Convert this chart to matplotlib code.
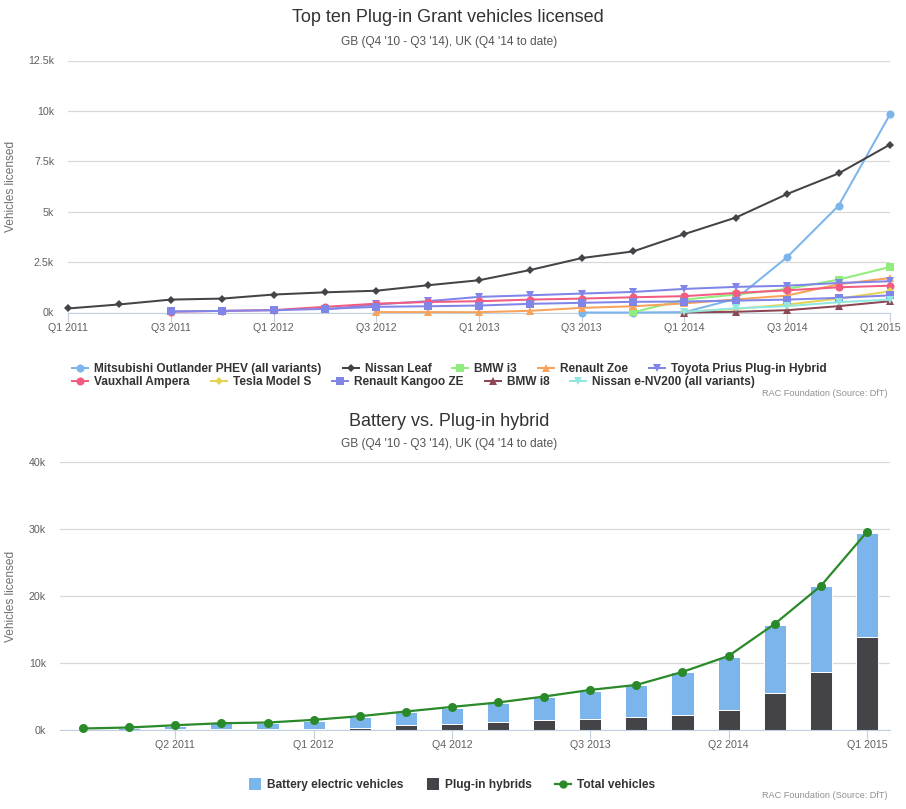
import numpy as np
import matplotlib
matplotlib.use('Agg')
import matplotlib.pyplot as plt
from matplotlib.lines import Line2D
from matplotlib.patches import Rectangle
from matplotlib.transforms import ScaledTranslation

plt.rcParams['font.family'] = ['Liberation Sans', 'DejaVu Sans']

nan = np.nan

# ---------------- data: top chart (quarters Q1 2011 .. Q1 2015) ----------------
quarters = ['Q1 2011', 'Q2 2011', 'Q3 2011', 'Q4 2011', 'Q1 2012', 'Q2 2012',
            'Q3 2012', 'Q4 2012', 'Q1 2013', 'Q2 2013', 'Q3 2013', 'Q4 2013',
            'Q1 2014', 'Q2 2014', 'Q3 2014', 'Q4 2014', 'Q1 2015']

outlander = [nan, nan, nan, nan, nan, nan, nan, nan, nan, nan, 0, 0, 20, 680, 2750, 5300, 9830]
leaf = [200, 400, 640, 690, 890, 1000, 1080, 1350, 1600, 2110, 2700, 3030, 3890, 4710, 5880, 6900, 8330]
bmw_i3 = [nan, nan, nan, nan, nan, nan, nan, nan, nan, nan, nan, 10, 640, 890, 1170, 1630, 2260]
zoe = [nan, nan, nan, nan, nan, nan, 20, 20, 15, 85, 230, 310, 450, 650, 840, 1400, 1710]
prius = [nan, nan, nan, nan, nan, 150, 400, 560, 775, 855, 940, 1020, 1170, 1270, 1330, 1465, 1550]
ampera = [nan, nan, 40, 80, 120, 280, 440, 520, 560, 640, 690, 755, 810, 970, 1100, 1250, 1330]
tesla = [nan, nan, nan, nan, nan, nan, nan, nan, nan, nan, nan, nan, 20, 180, 395, 690, 1050]
kangoo = [nan, nan, 50, 80, 110, 180, 280, 310, 345, 430, 480, 530, 545, 590, 640, 725, 850]
bmw_i8 = [nan, nan, nan, nan, nan, nan, nan, nan, nan, nan, nan, nan, 0, 35, 115, 315, 560]
env200 = [nan, nan, nan, nan, nan, nan, nan, nan, nan, nan, nan, nan, 20, 210, 315, 510, 640]

series_names = ['Mitsubishi Outlander PHEV (all variants)', 'Nissan Leaf', 'BMW i3',
                'Renault Zoe', 'Toyota Prius Plug-in Hybrid', 'Vauxhall Ampera',
                'Tesla Model S', 'Renault Kangoo ZE', 'BMW i8', 'Nissan e-NV200 (all variants)']
series_values = [outlander, leaf, bmw_i3, zoe, prius, ampera, tesla, kangoo, bmw_i8, env200]
top_ticks = [0, 2500, 5000, 7500, 10000, 12500]

# ---------------- data: bottom chart (quarters Q4 2010 .. Q1 2015) ----------------
quarters2 = ['Q4 2010'] + quarters
bev = [120, 260, 510, 880, 970, 1270, 1680, 2000, 2420, 2780, 3420, 4140, 4730, 6350, 7960, 10120, 12780, 15500]
phev = [0, 0, 10, 20, 30, 60, 240, 640, 840, 1140, 1440, 1640, 1890, 2190, 2940, 5480, 8620, 13850]
total = [150, 300, 640, 940, 1040, 1440, 1990, 2690, 3380, 4040, 4930, 5920, 6670, 8610, 11000, 15790, 21470, 29540]
bottom_ticks = [0, 10000, 20000, 30000, 40000]

# ---------------- styles ----------------
colors = ['#7cb5ec', '#434348', '#90ed7d', '#f7a35c', '#8085e9',
          '#f15c80', '#e4d354', '#8085e8', '#8d4653', '#91e8e1']
markers = ['o', 'D', 's', '^', 'v', 'o', 'D', 's', '^', 'v']
msizes = {'o': 5.8, 'D': 4.3, 's': 5.6, '^': 5.8, 'v': 5.8}
green = '#2a8a2a'
grid_c = '#D8D8D8'
axis_c = '#C0D0E0'
label_c = '#606060'

W, H = 906, 809
fig = plt.figure(figsize=(W / 100, H / 100), dpi=100)


def fx(x):
    return x / W


def fy(y):
    return 1 - y / H


def style_axes(ax, ticks):
    for s in ['top', 'right', 'left']:
        ax.spines[s].set_visible(False)
    ax.spines['bottom'].set_color(axis_c)
    ax.spines['bottom'].set_linewidth(0.8)
    ax.set_yticks(ticks)
    ax.set_yticklabels(['%gk' % (t / 1000) for t in ticks])
    ax.set_ylim(ticks[0], ticks[-1])
    ax.yaxis.grid(True, color=grid_c, linewidth=0.9)
    ax.set_axisbelow(True)
    ax.tick_params(axis='y', length=0, pad=10, labelsize=7.7, labelcolor=label_c)
    ax.tick_params(axis='x', length=6.5, width=0.8, color=axis_c, pad=1,
                   labelsize=7.7, labelcolor=label_c)


# ================= top chart =================
ax1 = fig.add_axes([fx(68), fy(312.5), fx(890) - fx(68), fy(60.5) - fy(312.5)])
x = np.arange(len(quarters))
for vals, c, m in zip(series_values, colors, markers):
    ax1.plot(x, vals, color=c, lw=1.45, marker=m, ms=msizes[m], mew=0,
             clip_on=False, zorder=3)
ax1.set_xlim(0, len(quarters) - 1)
ax1.set_xticks(x[::2])
ax1.set_xticklabels(quarters[::2])
style_axes(ax1, top_ticks)
# last label pulled in so it stays inside the chart, like the original
last = ax1.get_xticklabels()[-1]
last.set_transform(last.get_transform() + ScaledTranslation(-0.1, 0, fig.dpi_scale_trans))

fig.text(fx(448), fy(18), 'Top ten Plug-in Grant vehicles licensed', ha='center',
         va='center', fontsize=13, color='#333333')
fig.text(fx(449), fy(41.5), "GB (Q4 '10 - Q3 '14), UK (Q4 '14 to date)", ha='center',
         va='center', fontsize=8.6, color='#555555')
fig.text(fx(11), fy(186), 'Vehicles licensed', rotation=90, ha='center', va='center',
         fontsize=8.6, color='#707070')

# ================= bottom chart =================
ax2 = fig.add_axes([fx(60), fy(729.5), fx(890) - fx(60), fy(462) - fy(729.5)])
x2 = np.arange(len(quarters2))
ax2.bar(x2, phev, width=0.48, color='#434348', edgecolor='white', linewidth=0.7, zorder=2)
ax2.bar(x2, bev, width=0.48, bottom=phev, color='#7cb5ec', edgecolor='white',
        linewidth=0.7, zorder=2)
ax2.plot(x2, total, color=green, lw=1.6, marker='o', ms=6.5, mew=0, zorder=4,
         clip_on=False)
ax2.set_xlim(-0.5, len(quarters2) - 0.5)
ax2.set_xticks(x2[2::3])
ax2.set_xticklabels([quarters2[i] for i in x2[2::3]])
style_axes(ax2, bottom_ticks)

fig.text(fx(449), fy(421), 'Battery vs. Plug-in hybrid', ha='center', va='center',
         fontsize=13, color='#333333')
fig.text(fx(449), fy(444), "GB (Q4 '10 - Q3 '14), UK (Q4 '14 to date)", ha='center',
         va='center', fontsize=8.6, color='#555555')
fig.text(fx(11), fy(596), 'Vehicles licensed', rotation=90, ha='center', va='center',
         fontsize=8.6, color='#707070')

# ================= legends (flow layout like the original) =================
renderer = fig.canvas.get_renderer()
leg_font = dict(fontsize=8.6, fontweight='bold', color='#333333', va='baseline', ha='left')


def text_width(s):
    t = fig.text(0, 0, s, **leg_font)
    w = t.get_window_extent(renderer).width
    t.remove()
    return w


def legend_text(xp, y, s):
    # baseline sits ~4.3px under the symbol centre
    fig.text(fx(xp), fy(y + 4.3), s, **leg_font)


sym_w, sym_pad, gap = 16, 6, 21
rows = [list(range(0, 5)), list(range(5, 10))]
row_w = [sum(sym_w + sym_pad + text_width(series_names[i]) + gap for i in r) - gap
         for r in rows]
left = 449.5 - max(row_w) / 2
for r, y in zip(rows, [367.5, 381]):
    xp = left
    for i in r:
        fig.add_artist(Line2D([fx(xp), fx(xp + sym_w)], [fy(y), fy(y)],
                              transform=fig.transFigure, color=colors[i], lw=1.45))
        fig.add_artist(Line2D([fx(xp + sym_w / 2)], [fy(y)], transform=fig.transFigure,
                              color=colors[i], marker=markers[i], ms=msizes[markers[i]],
                              mew=0))
        legend_text(xp + sym_w + sym_pad, y, series_names[i])
        xp += sym_w + sym_pad + text_width(series_names[i]) + gap

# bottom legend
items2 = [('Battery electric vehicles', '#7cb5ec', 'box'),
          ('Plug-in hybrids', '#434348', 'box'),
          ('Total vehicles', green, 'line')]
sizes2 = [(12 if k == 'box' else sym_w) for _, _, k in items2]
tot_w = sum(s + sym_pad + text_width(n) + 23 for (n, _, _), s in zip(items2, sizes2)) - 23
xp = 452 - tot_w / 2
y = 783.5
for (name, c, kind), s in zip(items2, sizes2):
    if kind == 'box':
        fig.add_artist(Rectangle((fx(xp), fy(y + 6)), fx(12), 12 / H,
                                 transform=fig.transFigure, color=c, lw=0))
    else:
        fig.add_artist(Line2D([fx(xp), fx(xp + s)], [fy(y), fy(y)],
                              transform=fig.transFigure, color=c, lw=1.6))
        fig.add_artist(Line2D([fx(xp + s / 2)], [fy(y)], transform=fig.transFigure,
                              color=c, marker='o', ms=6, mew=0))
    legend_text(xp + s + sym_pad, y, name)
    xp += s + sym_pad + text_width(name) + 23

# credits
for yc in [393, 796]:
    fig.text(fx(888), fy(yc), 'RAC Foundation (Source: DfT)', ha='right', va='center',
             fontsize=6.6, color='#909090')

fig.savefig('out.png', dpi=100)
